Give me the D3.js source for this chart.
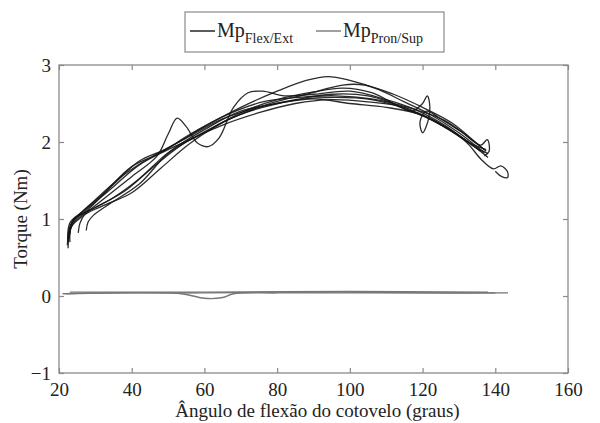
<!DOCTYPE html>
<html><head><meta charset="utf-8">
<script src="https://cdn.jsdelivr.net/npm/d3@7"></script>
<style>body{margin:0;background:#fff}svg{display:block}text{font-family:"Liberation Serif","Times New Roman",serif}</style>
</head><body>
<svg id="c" width="600" height="423"></svg>
<script>
const xTicks = [20,40,60,80,100,120,140,160];
const yTicks = [-1,0,1,2,3];
const xLabel = "Ângulo de flexão do cotovelo (graus)";
const yLabel = "Torque (Nm)";
const legendNames = [["Mp","Flex/Ext"],["Mp","Pron/Sup"]];

// Mp Flex/Ext trials: [angle, torque]
const flex1 = [[22.5,0.62],[22.8,0.8],[24,0.95],[28,1.12],[35,1.45],[42,1.75],[50,1.92],[60,2.2],[70,2.45],[80,2.66],[88,2.8],[94,2.85],[100,2.8],[108,2.68],[115,2.52],[122,2.36],[130,2.12],[137,1.86]];
const flex2 = [[23,0.7],[23.4,0.9],[26,1.02],[32,1.25],[40,1.55],[47,1.82],[50,2.1],[52.5,2.31],[55,2.2],[58,1.99],[61,1.94],[64,2.05],[68,2.45],[72,2.64],[76,2.66],[82,2.6],[90,2.62],[100,2.66],[110,2.55],[118,2.42],[126,2.22],[133,1.99],[137.5,1.9]];
const flex3 = [[22.3,0.66],[23,0.9],[25,1.03],[30,1.25],[38,1.58],[46,1.82],[55,2.05],[65,2.3],[75,2.45],[85,2.55],[95,2.62],[105,2.6],[112,2.5],[117,2.4],[120,2.5],[121.3,2.6],[122,2.45],[121,2.2],[120,2.12],[119.3,2.26],[121,2.4],[125,2.3],[131,2.12],[136,1.96],[137.8,2.03],[138.3,1.88],[137,1.82]];
const flex4 = [[22.6,0.7],[23.2,0.92],[25,1.03],[30,1.15],[38,1.36],[46,1.68],[55,2.0],[65,2.22],[75,2.38],[85,2.5],[95,2.55],[105,2.52],[115,2.45],[125,2.22],[132,2.0],[136,1.78],[139.5,1.65],[141.5,1.69],[143.3,1.62],[143.4,1.54],[141.8,1.55],[140,1.62]];
const flex5 = [[25.3,0.82],[25.8,0.95],[27,1.05],[32,1.17],[40,1.34],[48,1.66],[56,1.98],[66,2.28],[76,2.45],[86,2.55],[96,2.58],[106,2.55],[116,2.42],[126,2.2],[134,1.95],[138,1.8]];
const flex6 = [[27.5,0.85],[28,0.96],[29.5,1.05],[34,1.2],[42,1.45],[50,1.85],[58,2.08],[68,2.32],[78,2.5],[88,2.62],[98,2.74],[104,2.74],[112,2.62],[120,2.45],[128,2.25],[134,2.02],[137.5,1.88]];
const flex7 = [[22.4,0.72],[23,0.95],[26,1.08],[32,1.32],[40,1.68],[48,1.86],[56,2.1],[66,2.35],[76,2.52],[86,2.58],[96,2.6],[106,2.56],[116,2.45],[126,2.28],[133,2.05],[137,1.9]];
const flex8 = [[22.8,0.75],[23.5,0.95],[27,1.1],[34,1.38],[42,1.7],[50,1.9],[60,2.12],[70,2.38],[80,2.55],[90,2.65],[98,2.7],[106,2.64],[114,2.45],[122,2.3],[130,2.08],[136,1.88]];
const flex9 = [[23,0.8],[24,1.0],[28,1.1],[35,1.28],[42,1.52],[50,1.86],[60,2.16],[70,2.4],[80,2.5],[90,2.56],[100,2.5],[110,2.45],[120,2.35],[128,2.15],[135,1.92],[138,1.85]];
// Mp Pron/Sup trials
const pron1 = [[21,0.03],[40,0.04],[60,0.04],[80,0.05],[100,0.05],[120,0.04],[143.5,0.04]];
const pron2 = [[22,0.03],[50,0.04],[55,0.02],[60,-0.03],[65,-0.02],[68,0.03],[80,0.04],[110,0.04],[140,0.04]];
const pron3 = [[23,0.05],[60,0.05],[100,0.06],[138,0.05]];

const flexSeries = [flex1,flex2,flex3,flex4,flex5,flex6,flex7,flex8,flex9];
const pronSeries = [pron1,pron2,pron3];

const svg = d3.select("#c");
const L=59, R=568, T=65, B=373;
const x = d3.scaleLinear().domain([20,160]).range([L,R]);
const y = d3.scaleLinear().domain([-1,3]).range([B,T]);
const axisColor = "#8a8a8a";
const fs = 19;

svg.append("rect").attr("x",L).attr("y",T).attr("width",R-L).attr("height",B-T)
  .attr("fill","none").attr("stroke",axisColor).attr("stroke-width",1.3);

const gx = svg.append("g").attr("transform",`translate(0,${B})`)
  .call(d3.axisBottom(x).tickValues(xTicks).tickSize(-5).tickPadding(10).tickFormat(d3.format("d")));
const gx2 = svg.append("g").attr("transform",`translate(0,${T})`)
  .call(d3.axisTop(x).tickValues(xTicks).tickSize(-5).tickFormat(""));
const gy = svg.append("g").attr("transform",`translate(${L},0)`)
  .call(d3.axisLeft(y).tickValues(yTicks).tickSize(-5).tickPadding(8).tickFormat(d3.format("d")));
const gy2 = svg.append("g").attr("transform",`translate(${R},0)`)
  .call(d3.axisRight(y).tickValues(yTicks).tickSize(-5).tickFormat(""));
[gx,gx2,gy,gy2].forEach(g=>{
  g.select(".domain").remove();
  g.selectAll(".tick line").attr("stroke",axisColor).attr("stroke-width",1.2);
  g.selectAll("text").attr("font-size",fs).attr("fill","#222").attr("font-family","Liberation Serif");
});
gx.selectAll("text").attr("dy","0.71em");

const line = d3.line().x(d=>x(d[0])).y(d=>y(d[1])).curve(d3.curveCatmullRom.alpha(0.5));

svg.append("g").selectAll("path").data(pronSeries).join("path")
  .attr("d",line).attr("fill","none").attr("stroke","#777").attr("stroke-width",1.4);
svg.append("g").selectAll("path").data(flexSeries).join("path")
  .attr("d",line).attr("fill","none").attr("stroke","#151515").attr("stroke-width",1.3).attr("stroke-opacity",0.9);

svg.append("text").attr("x",(L+R)/2+4).attr("y",417).attr("text-anchor","middle")
  .attr("font-size",fs).attr("fill","#222").text(xLabel);
svg.append("text").attr("transform",`translate(27,${(T+B)/2})rotate(-90)`).attr("text-anchor","middle")
  .attr("font-size",fs).attr("fill","#222").text(yLabel);

const lg = svg.append("g");
lg.append("rect").attr("x",185).attr("y",12).attr("width",259).attr("height",40)
  .attr("fill","#fff").attr("stroke",axisColor).attr("stroke-width",1.2);
const items = [{x0:190, color:"#151515"},{x0:316, color:"#777"}];
items.forEach((it,i)=>{
  lg.append("line").attr("x1",it.x0).attr("x2",it.x0+25).attr("y1",31).attr("y2",31)
    .attr("stroke",it.color).attr("stroke-width",1.4);
  const t = lg.append("text").attr("x",it.x0+27).attr("y",37).attr("font-size",20).attr("fill","#222");
  t.append("tspan").text(legendNames[i][0]);
  t.append("tspan").attr("font-size",14).attr("dy",6).text(legendNames[i][1]);
});
</script>
</body></html>
